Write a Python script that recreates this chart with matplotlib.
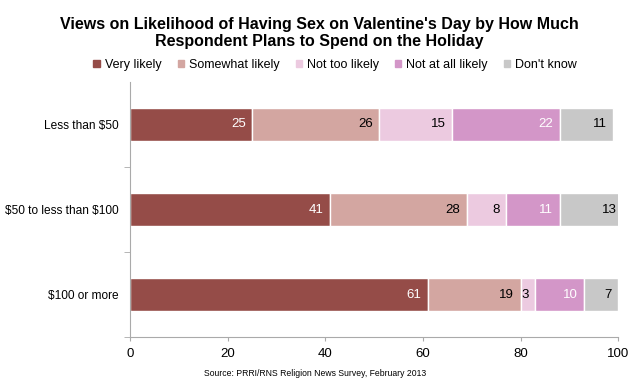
import numpy as np
import matplotlib.pyplot as plt
from matplotlib.patches import Patch

# ===================== DATA =====================
groups = ["Less than $50", "$50 to less than $100", "$100 or more"]
series = ["Very likely", "Somewhat likely", "Not too likely", "Not at all likely", "Don't know"]
very = [25, 41, 61]
somewhat = [26, 28, 19]
not_too = [15, 8, 3]
not_at_all = [22, 11, 10]
dont_know = [11, 13, 7]

colors = ["#954c48", "#d3a6a1", "#eccae0", "#d396c8", "#c8c8c8"]
txtcol = ["white", "black", "black", "white", "black"]

plt.rcParams['font.family'] = ['Liberation Sans', 'DejaVu Sans']
plt.rcParams['text.parse_math'] = False

fig = plt.figure(figsize=(6.4, 3.83), dpi=100)
ax = fig.add_axes([0.203, 0.12, 0.763, 0.666])

y = np.arange(len(groups))
left = np.zeros(len(groups))
for vals, c, tc, name in zip([very, somewhat, not_too, not_at_all, dont_know], colors, txtcol, series):
    vals = np.array(vals, dtype=float)
    ax.barh(y, vals, left=left, height=0.39, color=c, edgecolor="white", linewidth=1, label=name)
    for yi, l, v in zip(y, left, vals):
        ax.text(l + v - 1.3, yi, str(int(v)), ha="right", va="center", color=tc, fontsize=9.5)
    left += vals

ax.set_xlim(0, 100)
ax.set_ylim(2.5, -0.5)
ax.set_yticks(y)
ax.set_yticklabels(groups, fontsize=8.6)
ax.set_yticks([0.5, 1.5, 2.5], minor=True)
ax.tick_params(axis="y", which="major", length=0, pad=8)
ax.tick_params(axis="y", which="minor", length=4, color="#aaaaaa")
ax.set_xticks([0, 20, 40, 60, 80, 100])
ax.tick_params(axis="x", length=3, color="#aaaaaa", labelsize=9.5, pad=5)
for s in ["top", "right"]:
    ax.spines[s].set_visible(False)
for s in ["left", "bottom"]:
    ax.spines[s].set_color("#aaaaaa")

fig.text(0.499, 0.955, "Views on Likelihood of Having Sex on Valentine's Day by How Much\nRespondent Plans to Spend on the Holiday",
         ha="center", va="top", fontsize=11.5, fontweight="bold", linespacing=1.15)

handles = [Patch(color=c, label=n) for c, n in zip(colors, series)]
fig.legend(handles=handles, loc="center", bbox_to_anchor=(0.524, 0.83), ncol=5, frameon=False,
           fontsize=9, handlelength=0.5, handleheight=0.5, handletextpad=0.4, columnspacing=1.3)

fig.text(0.492, 0.012, "Source: PRRI/RNS Religion News Survey, February 2013", ha="center", va="bottom", fontsize=6.2)

plt.savefig("out.png", dpi=100)
